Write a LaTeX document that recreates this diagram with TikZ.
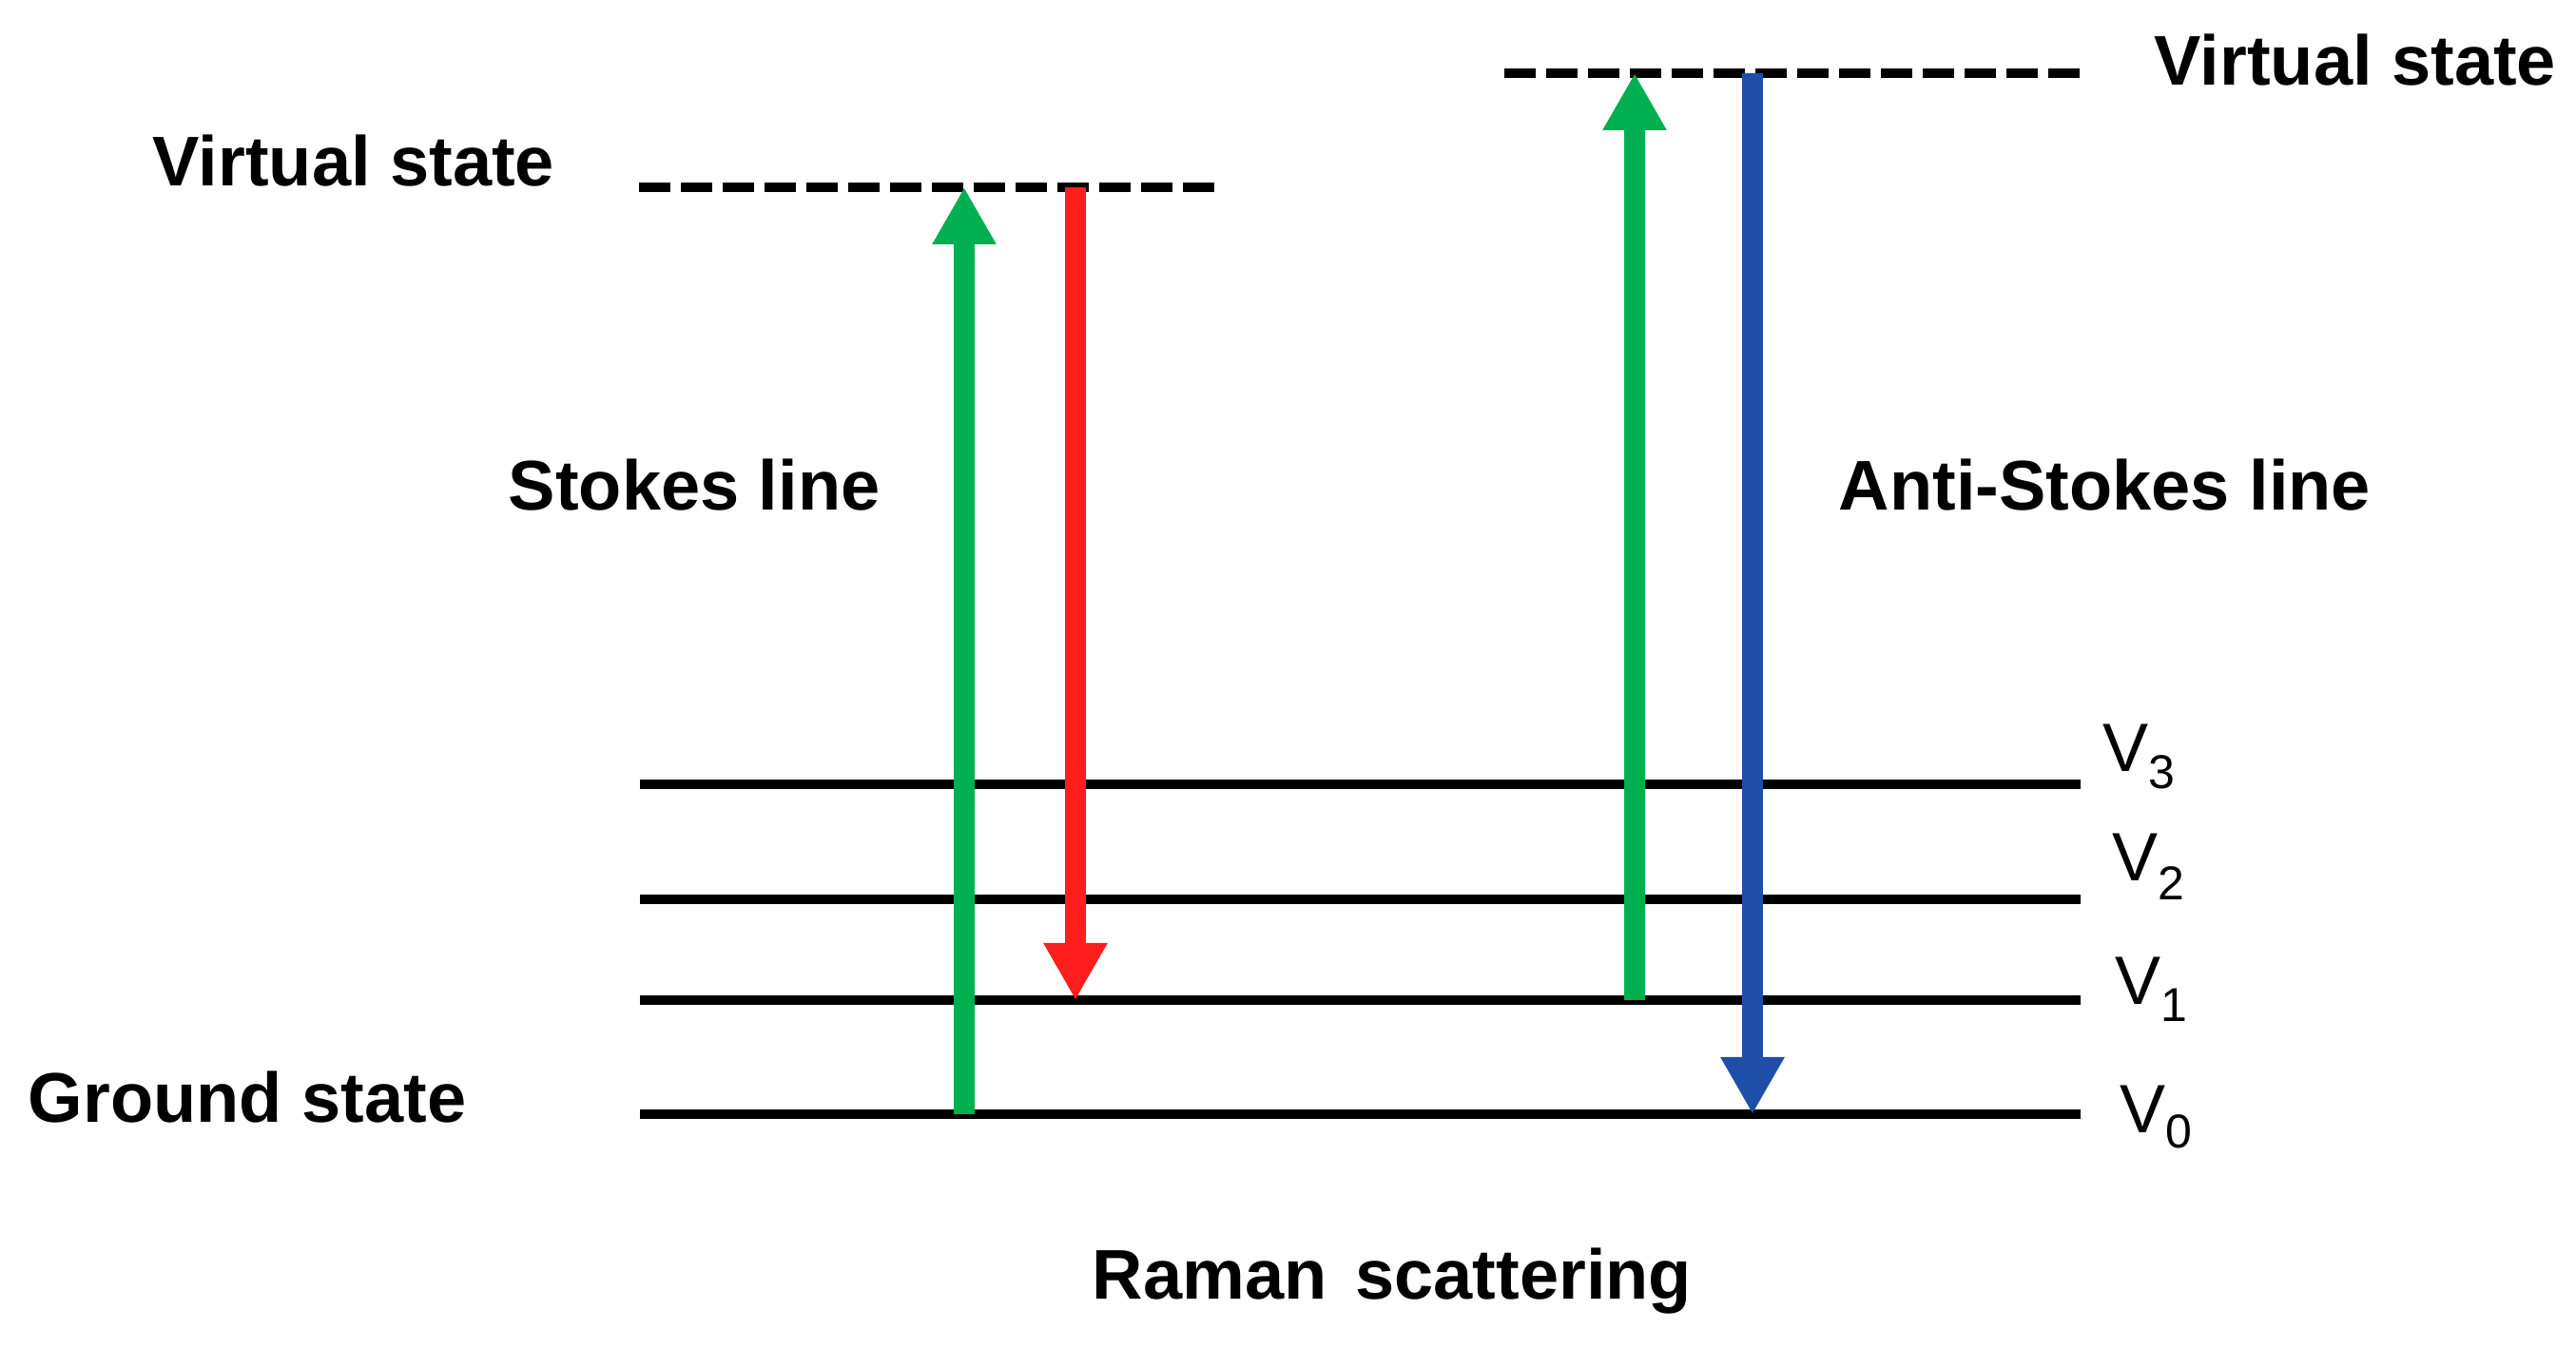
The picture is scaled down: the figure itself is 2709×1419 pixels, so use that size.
\documentclass[tikz,border=0pt]{standalone}
\usepackage{fontspec}
\setmainfont{Liberation Sans}
\usetikzlibrary{arrows.meta}
\definecolor{upgreen}{RGB}{0,176,80}
\definecolor{downred}{RGB}{255,30,30}
\definecolor{downblue}{RGB}{31,78,168}

\begin{document}
\begin{tikzpicture}[x=0.25pt,y=0.25pt,yscale=-1,
  lvline/.style={line width=2.3pt},
  virtline/.style={line width=2.5pt, dash pattern=on 8.25pt off 2.75pt},
  photon/.style={line width=5.5pt, -{Triangle[width=15.75pt,length=15pt]}},
  bigtxt/.style={anchor=base west, inner sep=0pt, font=\fontsize{18.5pt}{22pt}\selectfont\bfseries},
  vtxt/.style={anchor=base west, inner sep=0pt, font=\fontsize{18pt}{22pt}\selectfont}]
\useasboundingbox (0,0) rectangle (2709,1419);

%Vibrational levels
\coordinate (v3l) at (673,825);  \coordinate (v3r) at (2188,825);
\coordinate (v2l) at (673,946);  \coordinate (v2r) at (2188,946);
\coordinate (v1l) at (673,1052); \coordinate (v1r) at (2188,1052);
\coordinate (v0l) at (673,1172); \coordinate (v0r) at (2188,1172);
\draw[lvline] (v3l) -- (v3r);
\draw[lvline] (v2l) -- (v2r);
\draw[lvline] (v1l) -- (v1r);
\draw[lvline] (v0l) -- (v0r);

%Virtual states
\coordinate (vsla) at (672,197);  \coordinate (vslb) at (1280,197);
\coordinate (vsra) at (1582,77);  \coordinate (vsrb) at (2187,77);
\draw[virtline] (vsla) -- (vslb);
\draw[virtline] (vsra) -- (vsrb);

%Stokes
\coordinate (sinb) at (1014,1172); \coordinate (sint) at (1014,197);
\coordinate (soutt) at (1131,197); \coordinate (soutb) at (1131,1052);
\draw[photon, upgreen] (sinb) -- (sint);
\draw[photon, downred] (soutt) -- (soutb);

%Anti-Stokes
\coordinate (ainb) at (1719,1052); \coordinate (aint) at (1719,77);
\coordinate (aoutt) at (1843,77); \coordinate (aoutb) at (1843,1172);
\draw[photon, upgreen] (ainb) -- (aint);
\draw[photon, downblue] (aoutt) -- (aoutb);

% Text Node
\node[bigtxt] (vslab) at (160,196) {Virtual state};
% Text Node
\node[bigtxt] (vsrlab) at (2265,90) {Virtual state};
% Text Node
\node[bigtxt] (stklab) at (534,537) {Stokes line};
% Text Node
\node[bigtxt] (astklab) at (1933,537) {Anti-Stokes line};
% Text Node
\node[bigtxt] (gndlab) at (29,1181) {Ground state};
% Text Node
\node[bigtxt] (ttl) at (1148,1367) {Raman\hspace{7.5pt}scattering};
% Text Node
\node[vtxt] (l3) at (2211,812) {V\raisebox{-4.5pt}{\fontsize{12.5pt}{12.5pt}\selectfont 3}};
\node[vtxt] (l2) at (2221,927) {V\raisebox{-5pt}{\fontsize{12.5pt}{12.5pt}\selectfont 2}};
\node[vtxt] (l1) at (2224,1057) {V\raisebox{-4.5pt}{\fontsize{12.5pt}{12.5pt}\selectfont 1}};
\node[vtxt] (l0) at (2229,1192) {V\raisebox{-4pt}{\fontsize{12.5pt}{12.5pt}\selectfont 0}};
\end{tikzpicture}
\end{document}
